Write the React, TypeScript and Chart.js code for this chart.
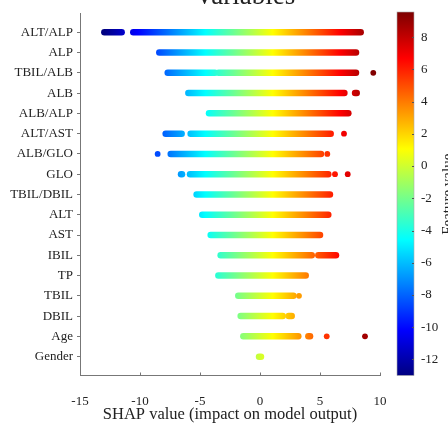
import React, { useEffect, useRef } from "react";
import { Chart, registerables } from "chart.js";

Chart.register(...registerables);

// ---- Data ----
const features = [
  "ALT/ALP", "ALP", "TBIL/ALB", "ALB", "ALB/ALP", "ALT/AST", "ALB/GLO", "GLO",
  "TBIL/DBIL", "ALT", "AST", "IBIL", "TP", "TBIL", "DBIL", "Age", "Gender",
];

// dense runs of SHAP values per feature: [start, end]
const denseRanges: number[][][] = [
  [[-12.97, -11.53], [-10.56, 8.39]],
  [[-8.39, 8.0]],
  [[-7.69, -3.75], [-3.45, 8.0]],
  [[-5.97, 7.03], [7.92, 8.06]],
  [[-4.25, 7.36]],
  [[-7.86, -6.53], [-5.78, 5.89]],
  [[-7.44, 5.08]],
  [[-6.58, -6.5], [-5.83, 5.69]],
  [[-5.28, 5.83]],
  [[-4.81, 5.69]],
  [[-4.11, 5.0]],
  [[-3.28, 4.31], [4.86, 6.33]],
  [[-3.47, 3.81]],
  [[-1.81, 2.78]],
  [[-1.61, 1.89], [2.39, 2.64]],
  [[-1.39, 3.19], [4.03, 4.17]],
  [[-0.08, 0.08]],
];

// isolated SHAP values per feature
const singlePoints: number[][] = [
  [], [], [9.44], [], [], [7.0], [-8.53, 5.61], [6.25, 7.31], [], [], [], [], [], [3.25], [], [5.56, 8.75], [],
];

const xTicks = [-15, -10, -5, 0, 5, 10];
const colorbarTicks = [-12, -10, -8, -6, -4, -2, 0, 2, 4, 6, 8];
const colorMin = -13;
const colorMax = 9.5;

const FONT = "'Liberation Serif', 'Times New Roman', serif";
const TEXT = "#222";
const AXIS = "#777";

function jetRGB(t: number): string {
  const tt = Math.max(0, Math.min(1, t));
  const c = (v: number) => Math.round(255 * Math.max(0, Math.min(1, v)));
  return `rgb(${c(1.5 - Math.abs(4 * tt - 3))},${c(1.5 - Math.abs(4 * tt - 2))},${c(1.5 - Math.abs(4 * tt - 1))})`;
}
const norm = (v: number) => (v - colorMin) / (colorMax - colorMin);

function xGradient(chart: any) {
  const { ctx, chartArea, scales } = chart;
  if (!chartArea || !scales.x) return "#888";
  const x0 = scales.x.getPixelForValue(colorMin);
  const x1 = scales.x.getPixelForValue(colorMax);
  const g = ctx.createLinearGradient(x0, 0, x1, 0);
  for (let i = 0; i <= 48; i++) g.addColorStop(i / 48, jetRGB(i / 48));
  return g;
}

const zeroPad = (s: any) => {
  s.paddingTop = 0;
  s.paddingBottom = 0;
  s.paddingLeft = 0;
  s.paddingRight = 0;
};

const decor = {
  id: "decor",
  afterDraw(chart: any) {
    const { ctx, chartArea, scales } = chart;
    const cb = scales.cbar;
    const xs = scales.x;
    ctx.save();
    // colorbar
    const yTop = cb.getPixelForValue(colorMax);
    const yBot = cb.getPixelForValue(colorMin);
    const bx = 397, bw = 17;
    const g = ctx.createLinearGradient(0, yBot, 0, yTop);
    for (let i = 0; i <= 48; i++) g.addColorStop(i / 48, jetRGB(i / 48));
    ctx.fillStyle = g;
    ctx.fillRect(bx, yTop - 1, bw, yBot - yTop + 1);
    ctx.strokeStyle = "#aaa";
    ctx.lineWidth = 0.6;
    ctx.strokeRect(bx, yTop - 1, bw, yBot - yTop + 1);
    ctx.strokeStyle = "#555";
    ctx.lineWidth = 1;
    for (const v of colorbarTicks) {
      const y = Math.round(cb.getPixelForValue(v)) + 0.5;
      ctx.beginPath();
      ctx.moveTo(bx + bw, y);
      ctx.lineTo(bx + bw - 2, y);
      ctx.stroke();
    }
    // x ticks (inward)
    ctx.strokeStyle = AXIS;
    for (const v of xTicks) {
      const x = Math.round(xs.getPixelForValue(v)) + 0.5;
      ctx.beginPath();
      ctx.moveTo(x, chartArea.bottom);
      ctx.lineTo(x, chartArea.bottom - 3);
      ctx.stroke();
    }
    // title (cut off at top)
    ctx.fillStyle = TEXT;
    ctx.font = `27px ${FONT}`;
    ctx.textAlign = "center";
    ctx.textBaseline = "alphabetic";
    ctx.fillText("Variables", 245, 4);
    // colorbar label
    ctx.save();
    ctx.translate(441, (yTop + yBot) / 2);
    ctx.rotate(-Math.PI / 2);
    ctx.font = `15px ${FONT}`;
    ctx.textAlign = "center";
    ctx.textBaseline = "top";
    ctx.fillText("Feature value", 0, 0);
    ctx.restore();
    ctx.restore();
  },
};

export default function App() {
  const ref = useRef<HTMLCanvasElement | null>(null);

  useEffect(() => {
    if (!ref.current) return;
    const datasets: any[] = [];
    denseRanges.forEach((ranges, i) => {
      ranges.forEach(([a, b]) => {
        datasets.push({
          data: [{ x: a, y: i }, { x: b, y: i }],
          showLine: true,
          borderColor: (c: any) => xGradient(c.chart),
          borderWidth: 6.5,
          borderCapStyle: "round",
          pointRadius: 0,
          pointHoverRadius: 0,
          fill: false,
        });
      });
    });
    datasets.push({
      data: singlePoints.flatMap((pts, i) => pts.map((x) => ({ x, y: i }))),
      pointRadius: 2.9,
      pointBorderWidth: 0,
      pointBackgroundColor: (c: any) => jetRGB(norm(c.raw ? c.raw.x : 0)),
    });

    const chart = new Chart(ref.current, {
      type: "scatter",
      data: { datasets },
      plugins: [decor],
      options: {
        animation: false,
        responsive: false,
        events: [],
        layout: { padding: { top: 13, left: 0, right: 0, bottom: 0 } },
        plugins: { legend: { display: false }, tooltip: { enabled: false }, title: { display: false } },
        scales: {
          x: {
            type: "linear",
            position: "bottom",
            min: -15,
            max: 10,
            afterBuildTicks: (s: any) => { s.ticks = xTicks.map((v) => ({ value: v })); },
            afterFit: (s: any) => { s.height = 51.5; zeroPad(s); },
            grid: { display: false },
            border: { display: true, color: AXIS, width: 1 },
            ticks: { padding: 10, color: TEXT, font: { family: FONT, size: 13 }, maxRotation: 0 },
            title: {
              display: true,
              text: "SHAP value (impact on model output)",
              color: TEXT,
              font: { family: FONT, size: 16.5 },
              padding: { top: 0, bottom: 2 },
            },
          },
          y: {
            type: "linear",
            position: "left",
            reverse: true,
            min: -0.95,
            max: 16.93,
            afterBuildTicks: (s: any) => { s.ticks = features.map((_, i) => ({ value: i })); },
            afterFit: (s: any) => { s.width = 80; zeroPad(s); },
            grid: { display: true, drawOnChartArea: false, drawTicks: true, tickLength: 3, color: AXIS },
            border: { display: true, color: AXIS, width: 1 },
            ticks: {
              padding: 4,
              color: TEXT,
              font: { family: FONT, size: 13 },
              callback: (v: any) => features[v] ?? "",
            },
          },
          cbar: {
            type: "linear",
            position: "right",
            min: colorMin,
            max: colorMax,
            afterBuildTicks: (s: any) => { s.ticks = colorbarTicks.map((v) => ({ value: v })); },
            afterFit: (s: any) => { s.width = 68; zeroPad(s); },
            grid: { display: false, drawOnChartArea: false },
            border: { display: false },
            ticks: { padding: 33, color: TEXT, font: { family: FONT, size: 13 } },
          },
        },
      } as any,
    });
    return () => chart.destroy();
  }, []);

  return (
    <div style={{ position: "absolute", left: 0, top: 0, width: 448, height: 427, background: "#fff" }}>
      <canvas ref={ref} width={448} height={427} style={{ display: "block" }} />
    </div>
  );
}
